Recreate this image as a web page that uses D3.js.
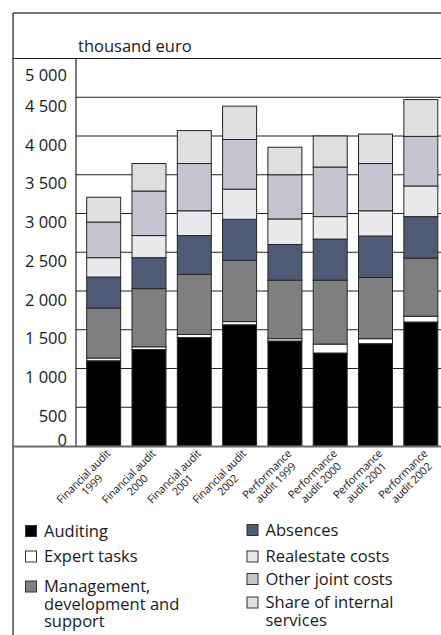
<!DOCTYPE html>
<html>
<head>
<meta charset="utf-8">
<script src="https://cdn.jsdelivr.net/npm/d3@7"></script>
<style>
  html, body { margin: 0; padding: 0; background: #fff; }
  svg { display: block; font-family: "Open Sans", "DejaVu Sans", sans-serif; }
</style>
</head>
<body>
<svg id="chart" width="441" height="635"></svg>
<script>
// Categories (two label lines each)
const categoryLines = [
  ["Financial audit", "1999"],
  ["Financial audit", "2000"],
  ["Financial audit", "2001"],
  ["Financial audit", "2002"],
  ["Performance", "audit 1999"],
  ["Performance", "audit 2000"],
  ["Performance", "audit 2001"],
  ["Performance", "audit 2002"]
];

// Series values, thousand euro (bottom to top of each stack)
const auditing      = [1100, 1245, 1400, 1565, 1355, 1200, 1320, 1600];
const expertTasks   = [35, 35, 40, 40, 30, 115, 65, 75];
const management    = [645, 750, 775, 790, 755, 825, 790, 750];
const absences      = [400, 400, 500, 530, 460, 530, 535, 535];
const realestate    = [250, 285, 320, 390, 330, 290, 325, 395];
const otherJoint    = [460, 575, 610, 640, 570, 640, 610, 640];
const internalShare = [320, 355, 425, 430, 355, 400, 380, 475];

const seriesNames = [
  "Auditing", "Expert tasks", "Management, development and support",
  "Absences", "Realestate costs", "Other joint costs", "Share of internal services"
];
const seriesValues = [auditing, expertTasks, management, absences, realestate, otherJoint, internalShare];
const seriesColors = ["#000000", "#ffffff", "#7f7f7f", "#4f5a77", "#eaeaed", "#c5c5d1", "#dfdfdf"];

// Y axis ticks
const yTicks = [0, 500, 1000, 1500, 2000, 2500, 3000, 3500, 4000, 4500, 5000];

const svg = d3.select("#chart");
const W = 441, H = 635;
const frameL = 13, frameT = 13;
const axisX = 76, plotTop = 58.5, baseY = 446;

const y = d3.scaleLinear().domain([0, 5000]).range([baseY, plotTop]);
const x = d3.scaleBand()
  .domain(d3.range(categoryLines.length))
  .range([axisX, 448.5])
  .paddingInner(0.25)
  .paddingOuter(0.236);

const fmt = d3.formatLocale({ decimal: ",", thousands: " ", grouping: [3], currency: ["", " €"] }).format(",");

// Frame: top rule and left rule of the box
svg.append("line").attr("x1", frameL).attr("x2", W).attr("y1", frameT).attr("y2", frameT)
  .attr("stroke", "#4a4a4a").attr("stroke-width", 1.5);
svg.append("line").attr("x1", frameL).attr("x2", frameL).attr("y1", frameT).attr("y2", H)
  .attr("stroke", "#4a4a4a").attr("stroke-width", 1.5);

// Unit header
svg.append("text").attr("x", 78).attr("y", 52)
  .attr("font-size", 16.5).attr("fill", "#1a1a1a").text("thousand euro");

// Header rule (also the 5 000 line)
svg.append("line").attr("x1", frameL).attr("x2", W).attr("y1", y(5000)).attr("y2", y(5000))
  .attr("stroke", "#222").attr("stroke-width", 1.2);

// Gridlines
svg.append("g").selectAll("line")
  .data(yTicks.filter(t => t > 0 && t < 5000))
  .join("line")
  .attr("x1", axisX).attr("x2", W)
  .attr("y1", d => y(d)).attr("y2", d => y(d))
  .attr("stroke", "#222").attr("stroke-width", 1.1);

// Y axis labels
const yAxis = d3.axisLeft(y).tickValues(yTicks).tickFormat(fmt).tickSize(0).tickPadding(9);
const gy = svg.append("g").attr("transform", `translate(${axisX},0)`).call(yAxis);
gy.select(".domain").remove();
gy.selectAll("text")
  .attr("font-family", "\"Open Sans\", sans-serif")
  .attr("font-size", 16.5)
  .attr("fill", "#1a1a1a")
  .attr("dy", d => d === 5000 ? "1.35em" : d === 0 ? "-0.05em" : "0.85em");

// Stacked bars
const tableRows = categoryLines.map((c, i) => {
  const row = {};
  seriesNames.forEach((s, k) => { row[s] = seriesValues[k][i]; });
  return row;
});
const stacked = d3.stack().keys(seriesNames)(tableRows);

svg.append("g").selectAll("g")
  .data(stacked)
  .join("g")
  .attr("fill", (d, k) => seriesColors[k])
  .selectAll("rect")
  .data(d => d.map((v, i) => ({ v, i })))
  .join("rect")
  .attr("x", d => x(d.i))
  .attr("width", x.bandwidth())
  .attr("y", d => y(d.v[1]))
  .attr("height", d => y(d.v[0]) - y(d.v[1]))
  .attr("stroke", "#262626")
  .attr("stroke-width", 1);

// Vertical axis rule
svg.append("line").attr("x1", axisX).attr("x2", axisX).attr("y1", y(5000)).attr("y2", baseY)
  .attr("stroke", "#222").attr("stroke-width", 1.2);

// Baseline
svg.append("line").attr("x1", frameL).attr("x2", W).attr("y1", baseY + 0.5).attr("y2", baseY + 0.5)
  .attr("stroke", "#6a6a6a").attr("stroke-width", 2);

// Category labels, rotated
const lab = svg.append("g").selectAll("g")
  .data(categoryLines)
  .join("g")
  .attr("transform", (d, i) => `translate(${x(i) + x.bandwidth() / 2 + 1},${baseY + 2}) rotate(-45)`)
  .attr("font-size", 11)
  .attr("letter-spacing", "-0.25px")
  .attr("fill", "#1a1a1a");
lab.each(function (d) {
  const g = d3.select(this);
  const t1 = g.append("text").attr("x", 0).attr("y", 9).attr("text-anchor", "end").text(d[0]);
  const w = t1.node().getComputedTextLength();
  g.append("text").attr("x", -w / 2).attr("y", 21).attr("text-anchor", "middle").text(d[1]);
});

// Legend
const legendItems = [
  { k: 0, x: 25.5, lines: ["Auditing"], y: 536.5 },
  { k: 1, x: 25.5, lines: ["Expert tasks"], y: 562 },
  { k: 2, x: 25.5, lines: ["Management,", "development and", "support"], y: 592 },
  { k: 3, x: 247, lines: ["Absences"], y: 535.5 },
  { k: 4, x: 247, lines: ["Realestate costs"], y: 562 },
  { k: 5, x: 247, lines: ["Other joint costs"], y: 584.5 },
  { k: 6, x: 247, lines: ["Share of internal", "services"], y: 608 }
];
const lg = svg.append("g").selectAll("g").data(legendItems).join("g");
lg.append("rect")
  .attr("x", d => d.x).attr("y", d => d.y - 11)
  .attr("width", 11).attr("height", 11)
  .attr("fill", d => seriesColors[d.k])
  .attr("stroke", "#333").attr("stroke-width", 1);
lg.append("text")
  .attr("x", d => d.x + 18.5)
  .attr("y", d => d.y)
  .attr("font-size", 16.5)
  .attr("fill", "#1a1a1a")
  .selectAll("tspan")
  .data(d => d.lines.map((t, j) => ({ t, j, x: d.x + 18.5 })))
  .join("tspan")
  .attr("x", d => d.x)
  .attr("dy", d => d.j === 0 ? 0 : 17.5)
  .text(d => d.t);
</script>
</body>
</html>
